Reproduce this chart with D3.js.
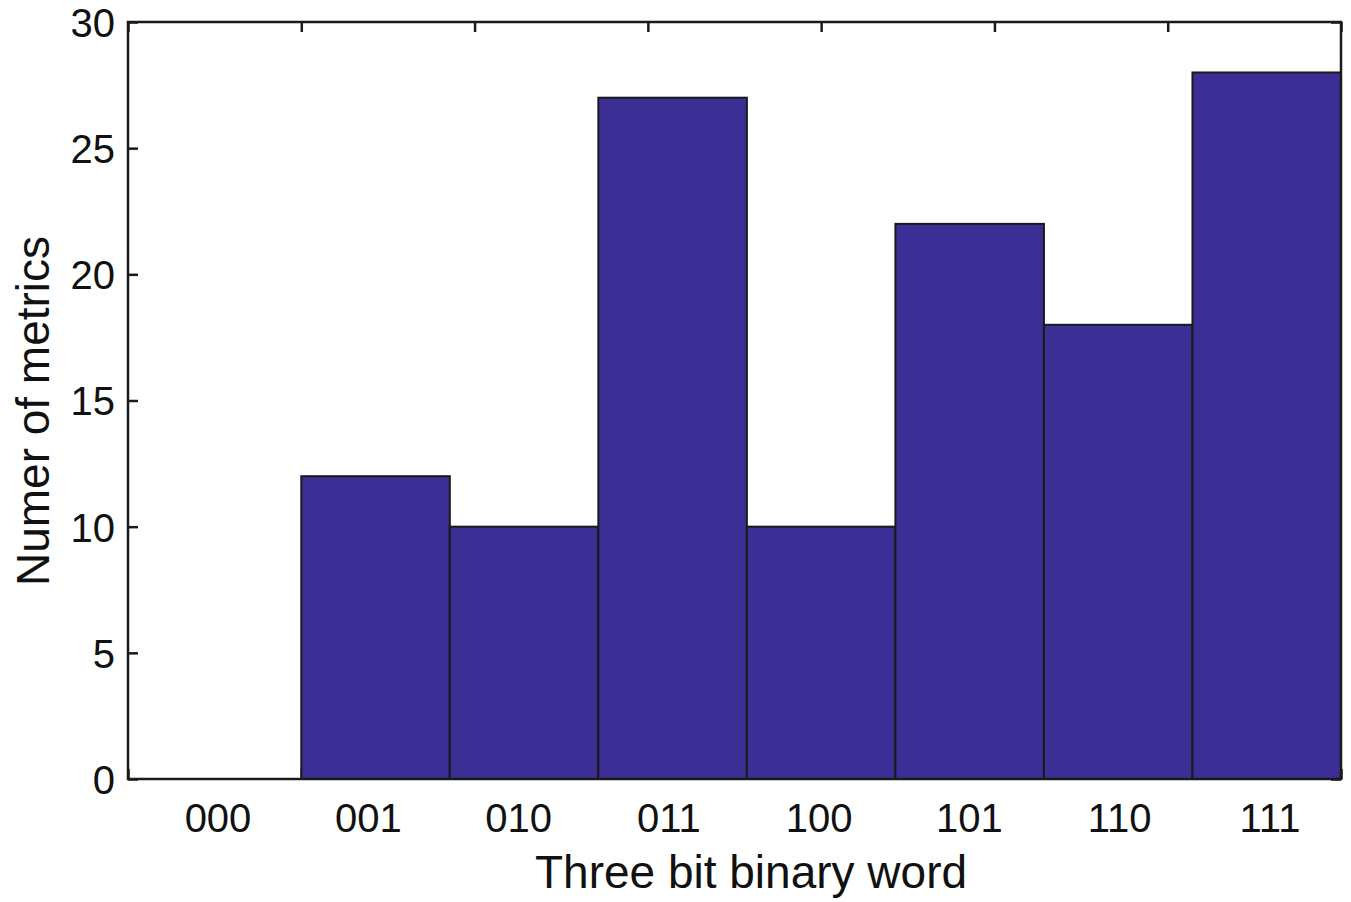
<!DOCTYPE html>
<html>
<head>
<meta charset="utf-8">
<script src="https://cdn.jsdelivr.net/npm/d3@7"></script>
<style>
  html, body { margin: 0; padding: 0; background: #fff; }
  svg text { font-family: "Liberation Sans", Arial, Helvetica, sans-serif; fill: #111; }
</style>
</head>
<body>
<svg id="chart" width="1351" height="902"></svg>
<script>
(function (d3) {
  'use strict';

  // histogram counts per three bit word
  const words = ['000', '001', '010', '011', '100', '101', '110', '111'];
  const counts = [0, 12, 10, 27, 10, 22, 18, 28];
  const yTicks = [0, 5, 10, 15, 20, 25, 30];

  const BAR_FILL = '#3b2e94';
  const EDGE = '#1a1a1a';

  const svg = d3.select('#chart');
  const left = 128, right = 1341, top = 22, bottom = 779;

  // axis units run 0..7, bins are 6/7 wide starting at 1/7
  const x = d3.scaleLinear().domain([0, 7]).range([left, right]);
  const y = d3.scaleLinear().domain([0, 30]).range([bottom, top]);
  const band = d3.scaleBand().domain(words).range([x(1 / 7), x(7)]).paddingInner(0).paddingOuter(0);
  const labelPos = d3.scalePoint().domain(words).range([218, 1270]);

  // ticks first, bars go over them (like matlab layer bottom)
  svg.append('g')
    .attr('transform', `translate(0,${top})`)
    .call(d3.axisTop(x).ticks(7).tickSizeInner(-10).tickSizeOuter(0).tickFormat(''))
    .call(g => g.select('.domain').remove())
    .selectAll('line').attr('stroke', EDGE).attr('stroke-width', 2.5);

  svg.append('g')
    .attr('transform', `translate(0,${bottom})`)
    .call(d3.axisBottom(x).ticks(7).tickSizeInner(-10).tickSizeOuter(0).tickFormat(''))
    .call(g => g.select('.domain').remove())
    .selectAll('line').attr('stroke', EDGE).attr('stroke-width', 2.5);

  svg.append('g')
    .attr('transform', `translate(${right},0)`)
    .call(d3.axisRight(y).tickValues(yTicks).tickSizeInner(-10).tickSizeOuter(0).tickFormat(''))
    .call(g => g.select('.domain').remove())
    .selectAll('line').attr('stroke', EDGE).attr('stroke-width', 2.5);

  const yAxis = svg.append('g')
    .attr('transform', `translate(${left},0)`)
    .call(d3.axisLeft(y).tickValues(yTicks).tickSizeInner(-10).tickSizeOuter(0).tickPadding(13));
  yAxis.select('.domain').remove();
  yAxis.selectAll('line').attr('stroke', EDGE).attr('stroke-width', 2.5);
  yAxis.selectAll('text')
    .attr('fill', '#111')
    .style('font-size', '40px')
    .attr('dy', '0.36em');

  // bars
  svg.append('g')
    .selectAll('rect')
    .data(words.map((w, i) => ({ word: w, count: counts[i] })).filter(d => d.count > 0))
    .enter()
    .append('rect')
    .attr('x', d => band(d.word))
    .attr('width', band.bandwidth())
    .attr('y', d => y(d.count))
    .attr('height', d => y(0) - y(d.count))
    .attr('fill', BAR_FILL)
    .attr('stroke', EDGE)
    .attr('stroke-width', 2);

  // frame
  svg.append('rect')
    .attr('x', left).attr('y', top)
    .attr('width', right - left).attr('height', bottom - top)
    .attr('fill', 'none')
    .attr('stroke', EDGE)
    .attr('stroke-width', 2.5);

  // word labels under the bins
  svg.append('g')
    .selectAll('text')
    .data(words)
    .enter()
    .append('text')
    .attr('x', d => labelPos(d))
    .attr('y', 832)
    .attr('text-anchor', 'middle')
    .style('font-size', '40px')
    .text(d => d);

  svg.append('text')
    .attr('x', 751)
    .attr('y', 888)
    .attr('text-anchor', 'middle')
    .style('font-size', '46px')
    .text('Three bit binary word');

  svg.append('text')
    .attr('transform', 'translate(49,411) rotate(-90)')
    .attr('text-anchor', 'middle')
    .style('font-size', '46px')
    .text('Numer of metrics');

}(d3));
</script>
</body>
</html>
